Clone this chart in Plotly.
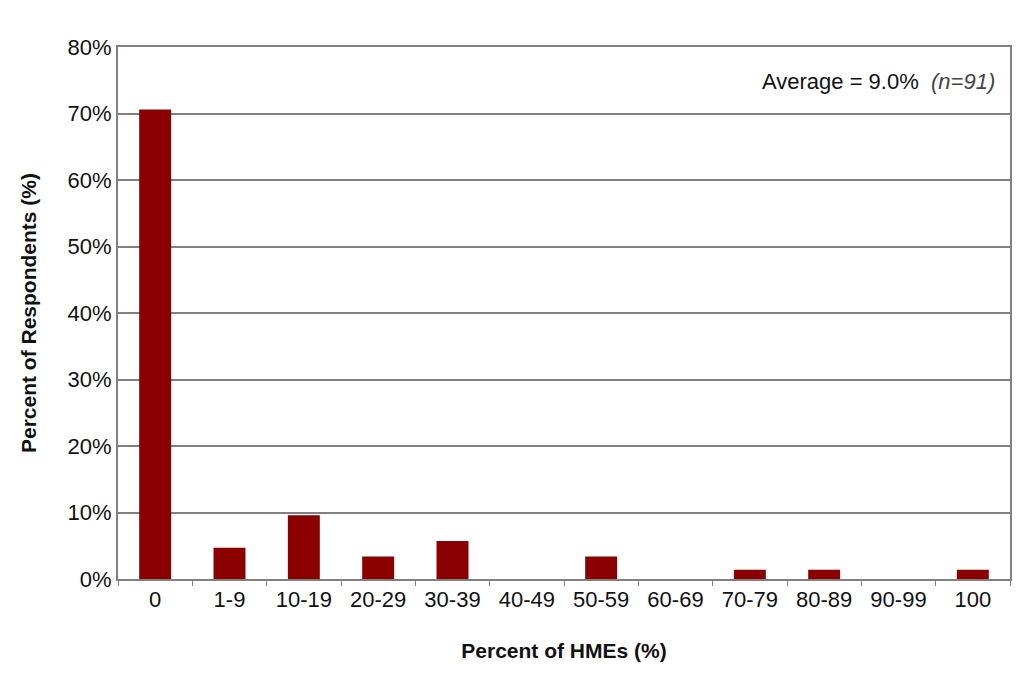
import plotly.graph_objects as go

categories = ["0", "1-9", "10-19", "20-29", "30-39", "40-49", "50-59", "60-69", "70-79", "80-89", "90-99", "100"]
percent_respondents = [70.6, 4.7, 9.6, 3.4, 5.7, 0, 3.4, 0, 1.4, 1.4, 0, 1.4]
y_ticks = [0, 10, 20, 30, 40, 50, 60, 70, 80]
y_tick_labels = [f"{v}%" for v in y_ticks]

FONT = "Liberation Sans, Arial, sans-serif"
GRID = "#808080"

fig = go.Figure(
    go.Bar(x=categories, y=percent_respondents, marker_color="#8b0000",
           marker_line_width=0, hoverinfo="x+y")
)

fig.update_layout(
    width=1024, height=696,
    margin=dict(l=118, r=14, t=47, b=117),
    paper_bgcolor="white", plot_bgcolor="white",
    bargap=0.57,
    showlegend=False,
    font=dict(family=FONT, color="#111111", size=22),
    xaxis=dict(
        type="category",
        tickson="boundaries",
        ticks="outside", ticklen=5, tickcolor=GRID, tickwidth=1,
        showline=True, linecolor=GRID, linewidth=2, mirror=True,
        showgrid=False,
        tickfont=dict(size=22, family=FONT),
        title=dict(text="<b>Percent of HMEs (%)</b>", font=dict(size=21, family=FONT), standoff=32),
    ),
    yaxis=dict(
        range=[0, 80],
        tickvals=y_ticks, ticktext=y_tick_labels,
        showgrid=True, gridcolor=GRID, gridwidth=1.5,
        showline=True, linecolor=GRID, linewidth=2, mirror=True,
        zeroline=False,
        ticks="", ticklen=0,
        tickfont=dict(size=22, family=FONT),
        title=dict(text="<b>Percent of Respondents (%)</b>", font=dict(size=21, family=FONT), standoff=25),
    ),
    annotations=[
        dict(
            x=0.985, y=0.935, xref="paper", yref="paper",
            xanchor="right", yanchor="middle", showarrow=False,
            text="Average = 9.0%  <i><span style='color:#444444'>(n=91)</span></i>",
            font=dict(size=22, family=FONT, color="#111111"),
        )
    ],
)

fig.write_html("out.html")
